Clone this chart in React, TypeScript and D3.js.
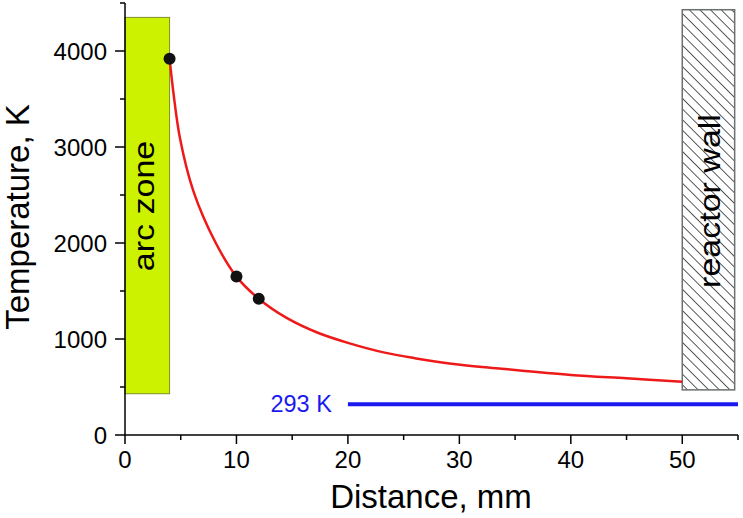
import React from 'react';
import * as d3 from 'd3';

// measured points
const pointX = [4, 10, 12];
const pointT = [3920, 1650, 1420];

// fitted curve
const fitX = [4, 4.35, 4.95, 6.15, 8.1, 10, 12, 14.5, 17.3, 20, 23.3, 26, 29.3, 33.8, 40, 45, 50];
const fitT = [3920, 3560, 3080, 2535, 2010, 1650, 1420, 1220, 1065, 960, 858, 800, 742, 690, 625, 590, 555];

// zones: [x0, x1, t0, t1]
const arcZone = [0, 4, 430, 4350];
const reactorWall = [50, 54.7, 470, 4430];

// ambient line
const ambientX = [20, 55];
const ambientT = 320;
const ambientLabel = '293 K';

const xTicks = [0, 10, 20, 30, 40, 50];
const xMinor = [5, 15, 25, 35, 45, 55];
const yTicks = [0, 1000, 2000, 3000, 4000];
const yMinor = [500, 1500, 2500, 3500, 4500];

const W = 743;
const H = 518;
const FONT = "Arial, 'Liberation Sans', sans-serif";

const App: React.FC = () => {
  const x = d3.scaleLinear().domain([0, 55]).range([125, 738]);
  const y = d3.scaleLinear().domain([0, 4500]).range([435, 3]);

  const fitData: [number, number][] = fitX.map((d, i) => [d, fitT[i]]);
  const line = d3.line<[number, number]>()
    .x(d => x(d[0]))
    .y(d => y(d[1]))
    .curve(d3.curveCatmullRom.alpha(0.5));

  const arcCx = (x(arcZone[0]) + x(arcZone[1])) / 2;
  const wallCx = (x(reactorWall[0]) + x(reactorWall[1])) / 2;

  return (
    <svg width={W} height={H} style={{ position: 'absolute', left: 0, top: 0 }} fontFamily={FONT}>
      <defs>
        <pattern id="hatch" patternUnits="userSpaceOnUse" width="7.5" height="7.5" patternTransform="rotate(-45)">
          <line x1="0" y1="0" x2="0" y2="7.5" stroke="#000" strokeWidth="1.3" />
        </pattern>
      </defs>
      <rect width={W} height={H} fill="#fff" />

      {/* arc zone */}
      <rect
        x={x(arcZone[0])} y={y(arcZone[3])}
        width={x(arcZone[1]) - x(arcZone[0])} height={y(arcZone[2]) - y(arcZone[3])}
        fill="#ccf200" stroke="#7f8f2a" strokeWidth={1}
      />
      <text
        transform={`translate(${arcCx + 7},206) rotate(-90) scale(1,0.85)`}
        textAnchor="middle" fontSize={34} fill="#000"
      >arc zone</text>

      {/* reactor wall */}
      <rect
        x={x(reactorWall[0])} y={y(reactorWall[3])}
        width={x(reactorWall[1]) - x(reactorWall[0])} height={y(reactorWall[2]) - y(reactorWall[3])}
        fill="url(#hatch)" stroke="#6b7070" strokeWidth={1.5}
      />
      <text
        transform={`translate(${wallCx + 12},201) rotate(-90) scale(1,0.85)`}
        textAnchor="middle" fontSize={34} fill="#000"
      >reactor wall</text>

      {/* ambient */}
      <line
        x1={x(ambientX[0])} x2={x(ambientX[1])} y1={y(ambientT)} y2={y(ambientT)}
        stroke="#1a1aee" strokeWidth={4}
      />
      <text x={x(ambientX[0]) - 16} y={y(ambientT) + 8} textAnchor="end" fontSize={23.5} fill="#1a1aee">{ambientLabel}</text>

      {/* curve */}
      <path d={line(fitData) || ''} fill="none" stroke="#ee1a1a" strokeWidth={2.5} />
      {pointX.map((d, i) => (
        <circle key={i} cx={x(d)} cy={y(pointT[i])} r={6} fill="#111" />
      ))}

      {/* axes */}
      <g stroke="#000" strokeWidth={1.5} fill="none">
        <line x1={x(0)} x2={x(55)} y1={y(0)} y2={y(0)} />
        <line x1={x(0)} x2={x(0)} y1={y(0)} y2={y(4500)} />
        {xTicks.map(t => <line key={'xt' + t} x1={x(t)} x2={x(t)} y1={y(0)} y2={y(0) + 9} />)}
        {xMinor.map(t => <line key={'xm' + t} x1={x(t)} x2={x(t)} y1={y(0)} y2={y(0) + 5} />)}
        {yTicks.map(t => <line key={'yt' + t} x1={x(0) - 10} x2={x(0)} y1={y(t)} y2={y(t)} />)}
        {yMinor.map(t => <line key={'ym' + t} x1={x(0) - 5} x2={x(0)} y1={y(t)} y2={y(t)} />)}
      </g>
      {xTicks.map(t => (
        <text key={'xl' + t} x={x(t)} y={468} textAnchor="middle" fontSize={24} fill="#000">{t}</text>
      ))}
      {yTicks.map(t => (
        <text key={'yl' + t} x={107} y={y(t) + 9} textAnchor="end" fontSize={24} fill="#000">{t}</text>
      ))}

      <text x={431} y={508} textAnchor="middle" fontSize={33} fill="#000">Distance, mm</text>
      <text transform={`translate(29,217) rotate(-90)`} textAnchor="middle" fontSize={33} fill="#000">Temperature, K</text>
    </svg>
  );
};

export default App;
